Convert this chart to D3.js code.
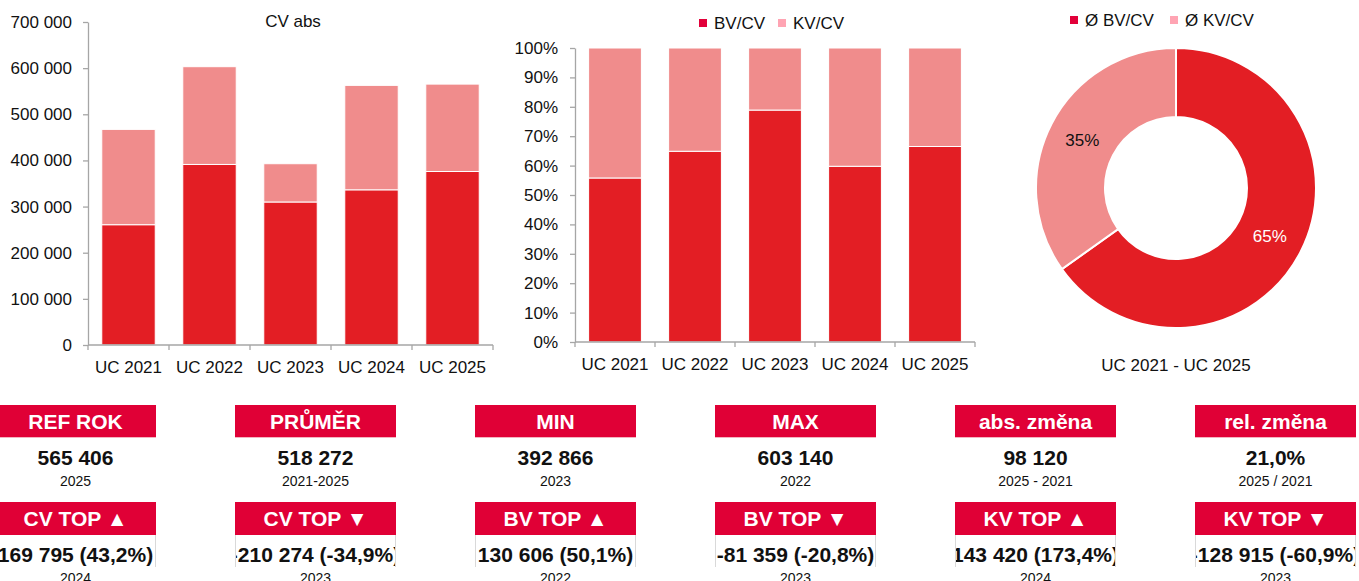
<!DOCTYPE html>
<html>
<head>
<meta charset="utf-8">
<script src="https://cdn.jsdelivr.net/npm/d3@7"></script>
<style>
  body { margin: 0; background: #fff; }
  svg { display: block; font-family: "Liberation Sans", Arial, sans-serif; }
</style>
</head>
<body>
<svg id="chart" width="1359" height="581"></svg>
<script>
// data
var categories = ["UC 2021", "UC 2022", "UC 2023", "UC 2024", "UC 2025"];
var bvValues = [260690, 391296, 309937, 336312, 376000];
var kvValues = [206596, 211844, 82929, 226349, 189406];
var absTicks = [0, 100000, 200000, 300000, 400000, 500000, 600000, 700000];
var pctTicks = [0, 0.1, 0.2, 0.3, 0.4, 0.5, 0.6, 0.7, 0.8, 0.9, 1];
var seriesNames = ["BV/CV", "KV/CV"];
var donutNames = ["Ø BV/CV", "Ø KV/CV"];

var kpiTitles = ["REF ROK", "PRŮMĚR", "MIN", "MAX", "abs. změna", "rel. změna"];
var kpiValues = ["565 406", "518 272", "392 866", "603 140", "98 120", "21,0%"];
var kpiSubs = ["2025", "2021-2025", "2023", "2022", "2025 - 2021", "2025 / 2021"];
var topTitles = ["CV TOP ▲", "CV TOP ▼", "BV TOP ▲", "BV TOP ▼", "KV TOP ▲", "KV TOP ▼"];
var topValues = ["169 795 (43,2%)", "-210 274 (-34,9%)", "130 606 (50,1%)", "-81 359 (-20,8%)", "143 420 (173,4%)", "-128 915 (-60,9%)"];
var topSubs = ["2024", "2023", "2022", "2023", "2024", "2023"];

var darkRed = "#e31e24", lightRed = "#f08c8c";
var legDark = "#e2003a", legLight = "#ffa4b3";
var headRed = "#e00036", axisCol = "#a6a6a6";

var svg = d3.select("#chart");
var loc = d3.formatLocale({decimal: ",", thousands: " ", grouping: [3], currency: ["", ""]});
var fmtNum = loc.format(",d");

var rows = categories.map((c, i) => ({name: c, bv: bvValues[i], kv: kvValues[i]}));

// category axis with boundary ticks (Excel style)
function catAxis(g, x, yPos, labelY) {
  g.append("line")
    .attr("x1", x.range()[0]).attr("x2", x.range()[1])
    .attr("y1", yPos).attr("y2", yPos)
    .attr("stroke", axisCol).attr("stroke-width", 1.3);
  var bounds = categories.map(c => x(c)).concat([x.range()[1]]);
  g.selectAll("line.tk").data(bounds).enter().append("line")
    .attr("class", "tk")
    .attr("x1", d => d).attr("x2", d => d)
    .attr("y1", yPos).attr("y2", yPos + 5)
    .attr("stroke", axisCol).attr("stroke-width", 1.3);
  g.selectAll("text").data(categories).enter().append("text")
    .attr("x", d => x(d) + x.bandwidth() / 2)
    .attr("y", labelY)
    .attr("text-anchor", "middle")
    .attr("font-size", 17).attr("fill", "#111")
    .text(d => d);
}

function styleYAxis(g) {
  g.select(".domain").attr("stroke", axisCol).attr("stroke-width", 1.3);
  g.selectAll(".tick line").attr("stroke", axisCol).attr("stroke-width", 1.3);
  g.selectAll(".tick text").attr("font-size", 17).attr("fill", "#111")
    .attr("font-family", "Liberation Sans, Arial, sans-serif");
}

// ---- left: CV abs ----
var x1 = d3.scaleBand().domain(categories).range([88, 493]);
var y1 = d3.scaleLinear().domain([0, 700000]).range([345, 22]);
var stack = d3.stack().keys(["bv", "kv"]);
var s1 = stack(rows);
var colors = {bv: darkRed, kv: lightRed};

svg.append("g")
  .selectAll("g").data(s1).enter().append("g")
    .attr("fill", d => colors[d.key])
  .selectAll("rect").data(d => d).enter().append("rect")
    .attr("x", d => x1(d.data.name) + x1.bandwidth() * 0.17)
    .attr("width", x1.bandwidth() * 0.66)
    .attr("y", d => y1(d[1]))
    .attr("height", d => y1(d[0]) - y1(d[1]))
    .attr("stroke", "#fff").attr("stroke-width", 1);

svg.append("g")
  .attr("transform", "translate(88,0)")
  .call(d3.axisLeft(y1).tickValues(absTicks).tickSize(5).tickPadding(11)
    .tickSizeOuter(0).tickFormat(d => fmtNum(d)))
  .call(styleYAxis);
svg.append("g").call(g => catAxis(g, x1, 345, 373));

svg.append("text")
  .attr("x", 293).attr("y", 27)
  .attr("text-anchor", "middle").attr("font-size", 17).attr("fill", "#111")
  .text("CV abs");

// ---- middle: shares ----
var x2 = d3.scaleBand().domain(categories).range([575, 975]);
var y2 = d3.scaleLinear().domain([0, 1]).range([342, 48]);
var s2 = d3.stack().keys(["bv", "kv"]).offset(d3.stackOffsetExpand)(rows);

svg.append("g")
  .selectAll("g").data(s2).enter().append("g")
    .attr("fill", d => colors[d.key])
  .selectAll("rect").data(d => d).enter().append("rect")
    .attr("x", d => x2(d.data.name) + x2.bandwidth() * 0.17)
    .attr("width", x2.bandwidth() * 0.66)
    .attr("y", d => y2(d[1]))
    .attr("height", d => y2(d[0]) - y2(d[1]))
    .attr("stroke", "#fff").attr("stroke-width", 1);

svg.append("g")
  .attr("transform", "translate(575,0)")
  .call(d3.axisLeft(y2).tickValues(pctTicks).tickSize(5).tickPadding(12)
    .tickSizeOuter(0).tickFormat(d3.format(".0%")))
  .call(styleYAxis);
svg.append("g").call(g => catAxis(g, x2, 342, 370));

function legend(g, names, xs, y) {
  var cols = [legDark, legLight];
  names.forEach((n, i) => {
    g.append("rect").attr("x", xs[i]).attr("y", y - 4).attr("width", 8).attr("height", 8)
      .attr("fill", cols[i]);
    g.append("text").attr("x", xs[i] + 15).attr("y", y + 6)
      .attr("font-size", 17).attr("fill", "#111").text(n);
  });
}
legend(svg.append("g"), seriesNames, [699, 778], 23);

// ---- right: donut ----
var shares = s2.map(s => d3.mean(s, d => d[1] - d[0]));
var pie = d3.pie().sort(null).value(d => d)(shares);
var rOut = 140, rIn = 71;
var arc = d3.arc().innerRadius(rIn).outerRadius(rOut);
var lab = d3.arc().innerRadius((rIn + rOut) / 2).outerRadius((rIn + rOut) / 2);
var dg = svg.append("g").attr("transform", "translate(1176,188)");
dg.selectAll("path").data(pie).enter().append("path")
  .attr("d", arc)
  .attr("fill", (d, i) => i === 0 ? darkRed : lightRed)
  .attr("stroke", "#fff").attr("stroke-width", 2);
dg.selectAll("text").data(pie).enter().append("text")
  .attr("transform", d => "translate(" + lab.centroid(d) + ")")
  .attr("dy", 6)
  .attr("text-anchor", "middle")
  .attr("font-size", 17)
  .attr("fill", (d, i) => i === 0 ? "#fff" : "#111")
  .text(d => d3.format(".0%")(d.data));

legend(svg.append("g"), donutNames, [1070, 1170], 20);
svg.append("text")
  .attr("x", 1176).attr("y", 371)
  .attr("text-anchor", "middle").attr("font-size", 17).attr("fill", "#111")
  .text("UC 2021 - UC 2025");

// ---- KPI tiles ----
var defs = svg.append("defs");
var tiles = svg.append("g");
kpiTitles.forEach((t, i) => {
  var x0 = -5 + i * 240, w = 161;
  var cx = x0 + w / 2;
  var g = tiles.append("g");
  // first row
  g.append("rect").attr("x", x0).attr("y", 405).attr("width", w).attr("height", 32).attr("fill", headRed);
  g.append("line").attr("x1", x0).attr("x2", x0 + w).attr("y1", 437.5).attr("y2", 437.5)
    .attr("stroke", "#f4b4c0").attr("stroke-width", 1);
  g.append("text").attr("x", cx).attr("y", 428.5).attr("text-anchor", "middle")
    .attr("font-size", 21).attr("font-weight", "bold").attr("fill", "#fff").text(t);
  g.append("text").attr("x", cx).attr("y", 464.5).attr("text-anchor", "middle")
    .attr("font-size", 21).attr("font-weight", "bold").attr("fill", "#111").text(kpiValues[i]);
  g.append("text").attr("x", cx).attr("y", 486).attr("text-anchor", "middle")
    .attr("font-size", 14).attr("fill", "#111").text(kpiSubs[i]);
  // second row
  g.append("rect").attr("x", x0).attr("y", 502).attr("width", w).attr("height", 33).attr("fill", headRed);
  g.append("text").attr("x", cx).attr("y", 526).attr("text-anchor", "middle")
    .attr("font-size", 21).attr("font-weight", "bold").attr("fill", "#fff").text(topTitles[i]);
  defs.append("clipPath").attr("id", "clip" + i)
    .append("rect").attr("x", x0 + 1).attr("y", 535).attr("width", w - 2).attr("height", 32);
  g.append("text").attr("clip-path", "url(#clip" + i + ")")
    .attr("x", cx).attr("y", 561.5).attr("text-anchor", "middle")
    .attr("font-size", 21).attr("font-weight", "bold").attr("fill", "#111").text(topValues[i]);
  [x0 + 0.5, x0 + w - 0.5].forEach(lx => {
    g.append("line").attr("x1", lx).attr("x2", lx).attr("y1", 535).attr("y2", 567)
      .attr("stroke", "#d9d9d9").attr("stroke-width", 1);
  });
  g.append("text").attr("x", cx).attr("y", 583).attr("text-anchor", "middle")
    .attr("font-size", 14).attr("fill", "#111").text(topSubs[i]);
});
</script>
</body>
</html>
